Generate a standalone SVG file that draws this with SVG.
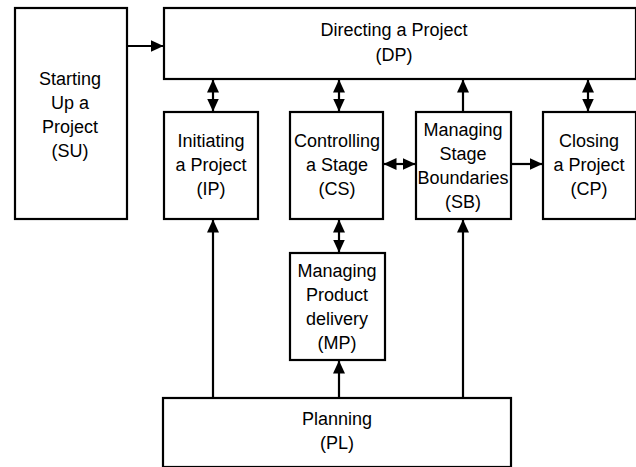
<svg xmlns="http://www.w3.org/2000/svg" width="636" height="467" viewBox="0 0 636 467">
  <style>
    .box { fill: #ffffff; stroke: #000000; stroke-width: 2.2; }
    .lbl { font-family: "Liberation Sans", Arial, sans-serif; font-size: 18px; fill: #000000; text-anchor: middle; }
    .flow { stroke: #000000; stroke-width: 2.2; fill: none; }
    .one { marker-end: url(#head); }
    .two { marker-start: url(#head); marker-end: url(#head); }
  </style>
  <defs>
    <marker id="head" markerUnits="userSpaceOnUse" markerWidth="13" markerHeight="13" viewBox="0 0 13 13" refX="12.5" refY="6.5" orient="auto-start-reverse">
      <path d="M0,0.5 L13,6.5 L0,12.5 z" fill="#000000"/>
    </marker>
  </defs>

  <rect width="636" height="467" fill="#ffffff"/>

  <g id="connectors">
    <line class="flow one" x1="128" y1="46" x2="163" y2="46"/>
    <line class="flow two" x1="213" y1="80" x2="213" y2="111"/>
    <line class="flow two" x1="339" y1="80" x2="339" y2="111"/>
    <line class="flow one" x1="463" y1="111" x2="463" y2="80"/>
    <line class="flow two" x1="588" y1="80" x2="588" y2="111"/>
    <line class="flow two" x1="384" y1="164" x2="415" y2="164"/>
    <line class="flow one" x1="512" y1="164" x2="542" y2="164"/>
    <line class="flow two" x1="339" y1="220" x2="339" y2="252"/>
    <line class="flow one" x1="213" y1="397" x2="213" y2="220"/>
    <line class="flow one" x1="339" y1="397" x2="339" y2="361"/>
    <line class="flow one" x1="463" y1="397" x2="463" y2="220"/>
  </g>

  <g id="SU">
    <rect class="box" x="15" y="8" width="112" height="211"/>
    <text class="lbl" x="70" y="85">Starting</text>
    <text class="lbl" x="70" y="109">Up a</text>
    <text class="lbl" x="70" y="133">Project</text>
    <text class="lbl" x="70" y="157">(SU)</text>
  </g>

  <g id="DP">
    <rect class="box" x="164" y="8" width="472" height="71"/>
    <text class="lbl" x="394" y="36">Directing a Project</text>
    <text class="lbl" x="394" y="61">(DP)</text>
  </g>

  <g id="IP">
    <rect class="box" x="164" y="112" width="94" height="107"/>
    <text class="lbl" x="211" y="147">Initiating</text>
    <text class="lbl" x="211" y="171">a Project</text>
    <text class="lbl" x="211" y="195">(IP)</text>
  </g>

  <g id="CS">
    <rect class="box" x="290" y="112" width="93" height="107"/>
    <text class="lbl" x="337" y="147">Controlling</text>
    <text class="lbl" x="337" y="171">a Stage</text>
    <text class="lbl" x="337" y="195">(CS)</text>
  </g>

  <g id="SB">
    <rect class="box" x="416" y="112" width="95" height="107"/>
    <text class="lbl" x="463" y="136">Managing</text>
    <text class="lbl" x="463" y="160">Stage</text>
    <text class="lbl" x="463" y="184">Boundaries</text>
    <text class="lbl" x="463" y="208">(SB)</text>
  </g>

  <g id="CP">
    <rect class="box" x="543" y="112" width="93" height="107"/>
    <text class="lbl" x="589" y="147">Closing</text>
    <text class="lbl" x="589" y="171">a Project</text>
    <text class="lbl" x="589" y="195">(CP)</text>
  </g>

  <g id="MP">
    <rect class="box" x="290" y="253" width="95" height="107"/>
    <text class="lbl" x="337" y="277">Managing</text>
    <text class="lbl" x="337" y="301">Product</text>
    <text class="lbl" x="337" y="325">delivery</text>
    <text class="lbl" x="337" y="349">(MP)</text>
  </g>

  <g id="PL">
    <rect class="box" x="163" y="398" width="348" height="69"/>
    <text class="lbl" x="337" y="425">Planning</text>
    <text class="lbl" x="337" y="449">(PL)</text>
  </g>
</svg>
